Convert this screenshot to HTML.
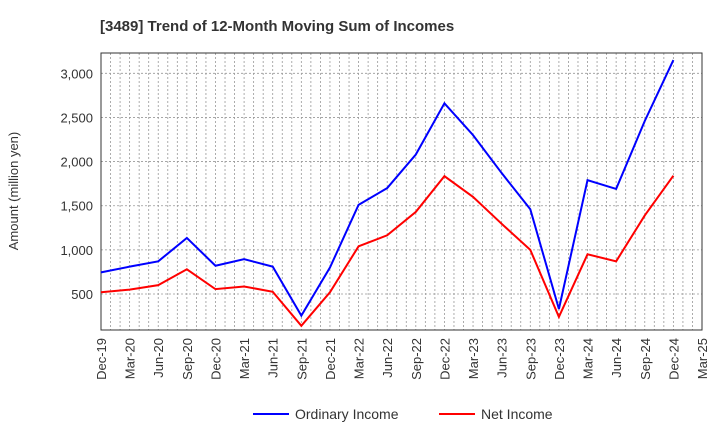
<!DOCTYPE html>
<html><head><meta charset="utf-8"><style>
body{margin:0;background:#fff;font-family:"Liberation Sans",sans-serif;}
</style></head><body>
<svg width="720" height="440" xmlns="http://www.w3.org/2000/svg" font-family="Liberation Sans, sans-serif">
<text x="100" y="31" font-size="15" font-weight="bold" fill="#333">[3489]  Trend of 12-Month Moving Sum of Incomes</text>
<g id="grid"></g>
<rect x="101" y="53" width="601" height="277" fill="none" stroke="#333" stroke-width="1"/>
<g id="yticks"></g><g id="xticks"></g><g id="series"></g>
<text transform="translate(18,191) rotate(-90)" text-anchor="middle" font-size="13" fill="#333">Amount (million yen)</text>
<g>
<line x1="253" y1="414" x2="289" y2="414" stroke="#0000ff" stroke-width="2"/>
<text x="295" y="419" font-size="14" fill="#333">Ordinary Income</text>
<line x1="439" y1="414" x2="475" y2="414" stroke="#ff0000" stroke-width="2"/>
<text x="481" y="419" font-size="14" fill="#333">Net Income</text>
</g>
</svg>
<script>
const xLabels=["Dec-19","Mar-20","Jun-20","Sep-20","Dec-20","Mar-21","Jun-21","Sep-21","Dec-21","Mar-22","Jun-22","Sep-22","Dec-22","Mar-23","Jun-23","Sep-23","Dec-23","Mar-24","Jun-24","Sep-24","Dec-24","Mar-25"];
const yTicks=[500,1000,1500,2000,2500,3000];
const ordinaryIncome=[745,810,870,1135,820,895,810,255,800,1510,1700,2080,2660,2300,1870,1460,330,1790,1690,2460,3150];
const netIncome=[520,550,600,780,555,585,525,140,520,1040,1165,1430,1835,1600,1295,1000,240,950,870,1390,1840];
const NS="http://www.w3.org/2000/svg";
const L=101,R=702,T=53,B=330;
const step=(R-L)/(xLabels.length-1);
const x=i=>L+i*step;
const y=v=>294-(v-500)*(220.7/2500);
function mk(tag,attrs,parent){const e=document.createElementNS(NS,tag);for(const k in attrs)e.setAttribute(k,attrs[k]);document.getElementById(parent).appendChild(e);return e;}
for(let m=1;m<(xLabels.length-1)*3;m++){const xx=L+m*step/3;
const g=mk('line',{x1:xx,x2:xx,y1:T,y2:B,stroke:'#999','stroke-dasharray':'2,2','stroke-width':0.8},'grid');

}
yTicks.forEach(v=>{const g=mk('line',{x1:L,x2:R,y1:y(v),y2:y(v),stroke:'#999','stroke-dasharray':'2,2','stroke-width':0.8},'grid');


const t=mk('text',{x:L-8,y:y(v)+5,'text-anchor':'end','font-size':13,fill:'#333'},'yticks');t.textContent=v.toLocaleString('en-US');

});
xLabels.forEach((s,i)=>{const t=mk('text',{transform:`translate(${x(i)+5},338) rotate(-90)`,'text-anchor':'end','font-size':13,fill:'#333'},'xticks');t.textContent=s;

});
function line(data,color,name){const p=mk('polyline',{points:data.map((v,i)=>x(i)+','+y(v)).join(' '),fill:'none',stroke:color,'stroke-width':2},'series');

}
line(ordinaryIncome,'#0000ff','ordinary-income-line');
line(netIncome,'#ff0000','net-income-line');
</script>
</body></html>
